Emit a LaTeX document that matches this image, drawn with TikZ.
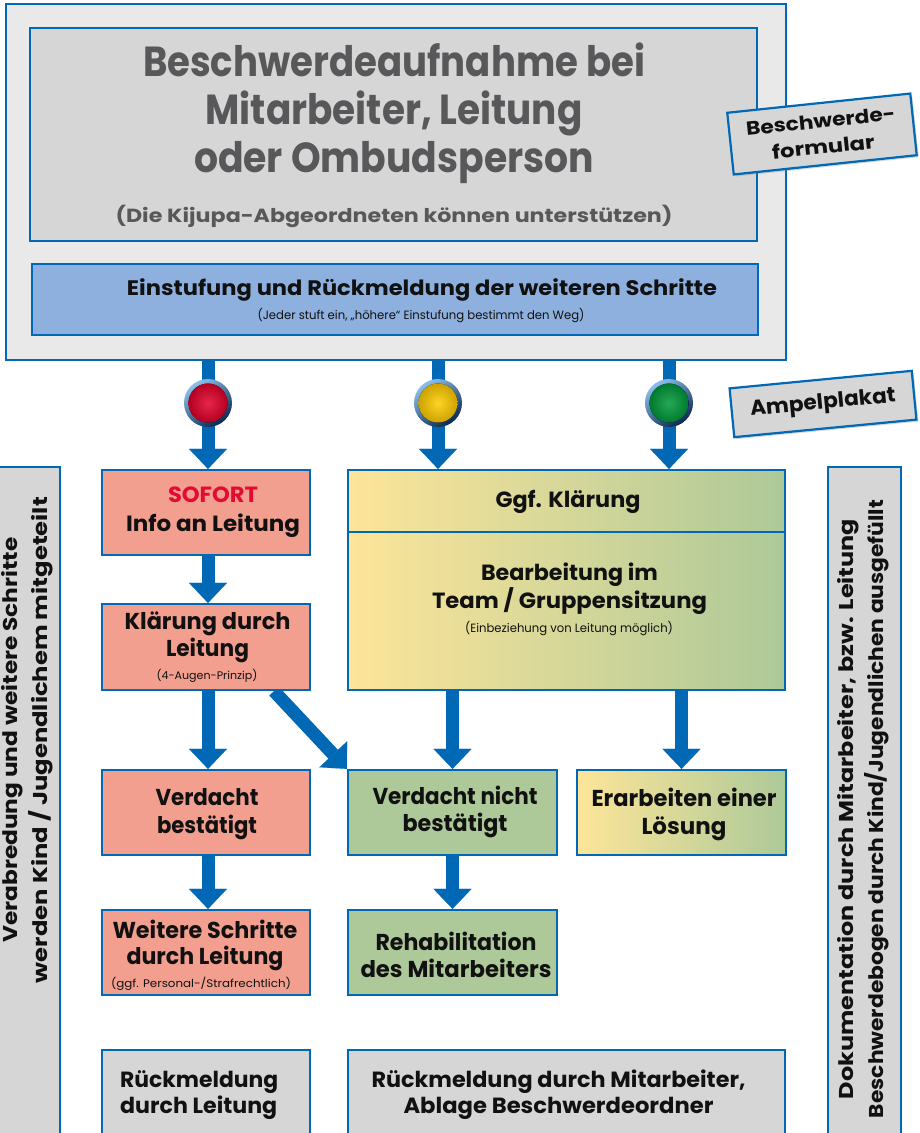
\documentclass[tikz,border=0pt]{standalone}
\usepackage{fontspec}
\setmainfont{Poppins}
\usetikzlibrary{arrows.meta,shadows,calc}
\definecolor{myblue}{HTML}{0068B5}
\definecolor{outerfill}{HTML}{E9E9E9}
\definecolor{grayfill}{HTML}{D6D6D6}
\definecolor{lightblue}{HTML}{8DB0DE}
\definecolor{salmon}{HTML}{F39F8F}
\definecolor{softgreen}{HTML}{ADC999}
\definecolor{softyellow}{HTML}{FDE599}
\definecolor{titlegray}{HTML}{58585A}
\definecolor{sofortred}{HTML}{E30B33}
\definecolor{textblack}{HTML}{111111}
\definecolor{ringlight}{HTML}{8CC0EA}
\definecolor{ringdark}{HTML}{0A2850}
\definecolor{lred}{HTML}{E2002A}
\definecolor{lyellow}{HTML}{FFCC00}
\definecolor{lgreen}{HTML}{00983A}
\newcommand\fx[2]{\setbox0=\hbox{#2}\pgfmathsetmacro\fxs{#1/\the\wd0}\scalebox{\fxs}[1]{\box0}}
\newcommand\fs[2]{\fontsize{#1}{#2}\selectfont}
\pgfdeclarelayer{bottom}
\pgfdeclarelayer{bg}
\pgfsetlayers{bottom,bg,main}
\tikzset{
  boxbase/.style={draw=myblue, line width=2.2pt, rectangle, inner sep=0pt},
  graybox/.style={boxbase, fill=grayfill},
  redbox/.style={boxbase, fill=salmon},
  greenbox/.style={boxbase, fill=softgreen},
  gradbox/.style={boxbase, left color=softyellow, right color=softgreen},
  tagbox/.style={boxbase, fill=grayfill, align=center, font=\bfseries, text=textblack,
    drop shadow={opacity=0.3, shadow xshift=2pt, shadow yshift=-2pt}},
  txt/.style={inner sep=0pt, align=center, text=textblack},
  arr/.style={draw=myblue, line width=13pt, -{Triangle[width=38pt,length=20pt,line width=0.1pt]}},
  ring/.style={circle, minimum size=48pt, inner sep=0pt, top color=ringlight, bottom color=ringdark, shading angle=35},
}
\begin{document}
\begin{tikzpicture}[x=1pt,y=-1pt]
\clip (0,0) rectangle (919,1133);
\begin{pgfonlayer}{bottom}
\fill[white] (0,0) rectangle (919,1133);
\end{pgfonlayer}

% top area
\node[boxbase, fill=outerfill, minimum width=780pt, minimum height=356pt] (outer) at (396,182) {};
\node[graybox, minimum width=727pt, minimum height=213pt] (titlebox) at (393.5,134.5) {};
\node[boxbase, fill=lightblue, minimum width=726pt, minimum height=71pt] (einst) at (395,299.5) {};

\node[txt, text=titlegray, font=\bfseries\fs{42}{48}] (ttl) at (394,113)
  {\fx{502}{Beschwerdeaufnahme bei}\\\fx{377}{Mitarbeiter, Leitung}\\\fx{400}{oder Ombudsperson}};
\node[txt, text=titlegray, font=\bfseries\fs{19}{22}] (sub) at (394,216)
  {\fx{557}{(Die Kijupa-Abgeordneten können unterstützen)}};
\node[txt, font=\bfseries\fs{21}{24}] (einsttxt) at (422,290)
  {\fx{590}{Einstufung und Rückmeldung der weiteren Schritte}};
\node[txt, font=\fs{12}{14}] (einstsmall) at (421,316)
  {\fx{327}{(Jeder stuft ein, „höhere“ Einstufung bestimmt den Weg)}};

% tags
\node[tagbox, rotate=6, minimum width=184pt, minimum height=62pt, font=\bfseries\fs{19}{26}] (formtag) at (822,134)
  {\fx{150}{Beschwerde-}\\\fx{103}{formular}};
\node[tagbox, rotate=5.5, minimum width=183pt, minimum height=49pt, font=\bfseries\fs{21}{24}] (ampeltag) at (823,404)
  {\fx{146}{Ampelplakat}};

% side bars
\node[graybox, minimum width=65pt, minimum height=673pt] (lbar) at (27.5,803.5) {};
\node[graybox, minimum width=73pt, minimum height=673pt] (rbar) at (864.5,803.5) {};
\node[txt, rotate=90, font=\bfseries\fs{20}{30}] (ltxt) at (27,740)
  {\fx{405}{Verabredung und weitere Schritte}\\\fx{486}{werden Kind / Jugendlichem mitgeteilt}};
\node[txt, rotate=90, font=\bfseries\fs{20}{30}] (rtxt) at (863,809)
  {\fx{580}{Dokumentation durch Mitarbeiter, bzw. Leitung}\\\fx{618}{Beschwerdebogen durch Kind/Jugendlichen ausgefüllt}};

% left column
\node[redbox, minimum width=208pt, minimum height=85pt] (sofort) at (206,512.5) {};
\node[txt, font=\bfseries\fs{22}{29}] (soforttxt) at (213,512.5)
  {\textcolor{sofortred}{\fx{90}{SOFORT}}\\\fx{174}{Info an Leitung}};
\node[redbox, minimum width=208pt, minimum height=86pt] (klaer) at (206,647) {};
\node[txt, font=\bfseries\fs{23}{27}] (klaertxt) at (207.5,637.5)
  {\fx{166}{Klärung durch}\\\fx{83}{Leitung}};
\node[txt, font=\fs{11}{13}] (klaersmall) at (207,676) {\fx{101}{(4-Augen-Prinzip)}};
\node[redbox, minimum width=208pt, minimum height=85pt] (vbest) at (206,812.5) {};
\node[txt, font=\bfseries\fs{23}{28}] (vbesttxt) at (207,814)
  {\fx{103}{Verdacht}\\\fx{100}{bestätigt}};
\node[redbox, minimum width=208pt, minimum height=85pt] (weiter) at (206,952.5) {};
\node[txt, font=\bfseries\fs{23}{26}] (weitertxt) at (205,945)
  {\fx{185}{Weitere Schritte}\\\fx{157}{durch Leitung}};
\node[txt, font=\fs{11}{13}] (weitersmall) at (201,984) {\fx{180}{(ggf. Personal-/Strafrechtlich)}};
\node[graybox, minimum width=208pt, minimum height=90pt] (rueckL) at (206,1095) {};
\node[txt, anchor=west, align=left, font=\bfseries\fs{22}{26}] (rueckLtxt) at (120,1095)
  {\fx{158}{Rückmeldung}\\\fx{157}{durch Leitung}};

% middle / right column
\node[gradbox, minimum width=437pt, minimum height=220pt] (big) at (566.5,580) {};
\draw[draw=myblue, line width=2.2pt] ($(big.north west)+(0,63)$) -- ($(big.north east)+(0,63)$);
\node[txt, font=\bfseries\fs{22}{26}] (ggftxt) at (568,502) {\fx{145}{Ggf. Klärung}};
\node[txt, font=\bfseries\fs{22}{28}] (beartxt) at (569.5,589)
  {\fx{177}{Bearbeitung im}\\\fx{275}{Team / Gruppensitzung}};
\node[txt, font=\fs{12}{14}] (bearsmall) at (569,629) {\fx{208}{(Einbeziehung von Leitung möglich)}};
\node[greenbox, minimum width=209pt, minimum height=85pt] (nicht) at (452.5,812.5) {};
\node[txt, font=\bfseries\fs{23}{27}] (nichttxt) at (455,811.5)
  {\fx{165}{Verdacht nicht}\\\fx{105}{bestätigt}};
\node[greenbox, minimum width=209pt, minimum height=85pt] (rehab) at (452.5,952.5) {};
\node[txt, font=\bfseries\fs{23}{27}] (rehabtxt) at (456,954.5)
  {\fx{161}{Rehabilitation}\\\fx{191}{des Mitarbeiters}};
\node[gradbox, minimum width=209pt, minimum height=85pt] (loes) at (681.5,812.5) {};
\node[txt, font=\bfseries\fs{23}{28}] (loestxt) at (684,814)
  {\fx{185}{Erarbeiten einer}\\\fx{85}{Lösung}};
\node[graybox, minimum width=437pt, minimum height=90pt] (rueckM) at (566.5,1095) {};
\node[txt, font=\bfseries\fs{22}{26}] (rueckMtxt) at (558.5,1095)
  {\fx{374}{Rückmeldung durch Mitarbeiter,}\\\fx{310}{Ablage Beschwerdeordner}};

% traffic lights
\node[ring] (rl) at (208,403) {};
\node[ring] (yl) at (438,403) {};
\node[ring] (gl) at (669,403) {};
\fill[shading=radial, inner color=lred!85!white, outer color=lred!80!black] (rl.center) circle (19.5pt);
\fill[shading=radial, inner color=lyellow!85!white, outer color=lyellow!80!black] (yl.center) circle (19.5pt);
\fill[shading=radial, inner color=lgreen!85!white, outer color=lgreen!80!black] (gl.center) circle (19.5pt);

% connectors
\begin{pgfonlayer}{bg}
\draw[arr] (outer.south -| rl) -- (sofort.north -| rl);
\draw[arr] (outer.south -| yl) -- (big.north -| yl);
\draw[arr] (outer.south -| gl) -- (big.north -| gl);
\draw[arr] (sofort.south -| rl) -- (klaer.north -| rl);
\draw[arr] (klaer.south -| rl) -- (vbest.north -| rl);
\draw[arr] ([xshift=68pt]klaer.south) -- (nicht.north west);
\draw[arr] (big.south -| nicht.north) -- (nicht.north);
\draw[arr] (big.south -| loes.north) -- (loes.north);
\draw[arr] (vbest.south -| rl) -- (weiter.north -| rl);
\draw[arr] (nicht.south) -- (rehab.north);
\end{pgfonlayer}
\end{tikzpicture}
\end{document}
